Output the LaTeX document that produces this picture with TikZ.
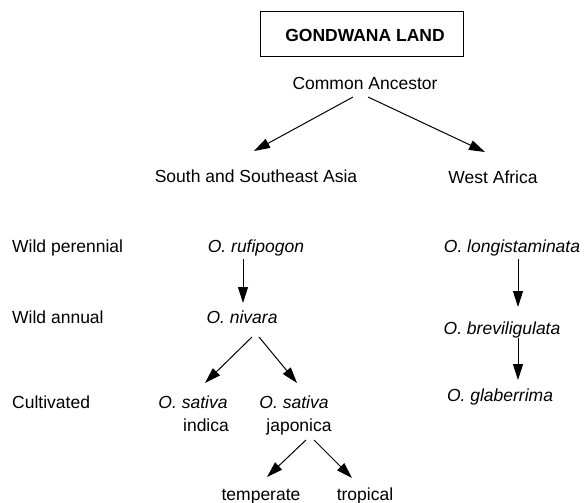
\documentclass[tikz,border=0pt]{standalone}
\usepackage{fontspec}
\setmainfont{Liberation Sans}
\usetikzlibrary{arrows.meta}

\begin{document}
\begin{tikzpicture}[x=1pt, y=-1pt,
		txt/.style={font=\fontsize{17.5}{20}\selectfont, inner sep=0pt, anchor=base},
		taxon/.style={txt, font=\fontsize{17.5}{20}\selectfont\itshape},
		arr/.style={-{Triangle[length=16pt, width=10pt]}, line width=1pt}]
	\useasboundingbox (0,0) rectangle (584,503);
	
	% Origin
	\draw[line width=1pt] (260,12) rectangle (463,57);
	\node[txt, font=\fontsize{17.5}{20}\selectfont\bfseries] (gond) at (365,42) {GONDWANA LAND};
	\node[txt] (anc) at (365,89) {Common Ancestor};
	\node[txt] (sasia) at (256,182) {South and Southeast Asia};
	\node[txt] (wafr) at (493,183) {West Africa};
	
	% Row labels
	\node[txt, anchor=base west] (wper) at (12,252) {Wild perennial};
	\node[txt, anchor=base west] (wann) at (12,323) {Wild annual};
	\node[txt, anchor=base west] (cult) at (12,408) {Cultivated};
	
	% Asian lineage
	\node[taxon] (rufi) at (256,252) {O. rufipogon};
	\node[taxon] (niva) at (242,323) {O. nivara};
	\node[taxon] (satI) at (193,408) {O. sativa};
	\node[txt] (indi) at (206,431) {indica};
	\node[taxon] (satJ) at (294,408) {O. sativa};
	\node[txt] (japo) at (299,431) {japonica};
	\node[txt] (temp) at (261,500) {temperate};
	\node[txt] (trop) at (365,500) {tropical};
	
	% African lineage
	\node[taxon] (long) at (512,252) {O. longistaminata};
	\node[taxon] (brev) at (502,334) {O. breviligulata};
	\node[taxon] (glab) at (500,401) {O. glaberrima};
	
	% Arrows
	\draw[arr] ([shift={(-12,8)}]anc.base) -- ([shift={(-2,-31)}]sasia.base);
	\draw[arr] ([shift={(3,8)}]anc.base) -- ([shift={(-8,-31)}]wafr.base);
	\draw[arr] ([shift={(-13,7)}]rufi.base) -- ([shift={(1,-20)}]niva.base);
	\draw[arr] ([shift={(10,14)}]niva.base) -- ([shift={(12,-25)}]satI.base);
	\draw[arr] ([shift={(17,14)}]niva.base) -- ([shift={(3,-25)}]satJ.base);
	\draw[arr] ([shift={(7,9)}]japo.base) -- ([shift={(6,-23)}]temp.base);
	\draw[arr] ([shift={(15,9)}]japo.base) -- ([shift={(-13,-22)}]trop.base);
	\draw[arr] ([shift={(6,7)}]long.base) -- ([shift={(16,-27)}]brev.base);
	\draw[arr] ([shift={(16,4)}]brev.base) -- ([shift={(18,-21)}]glab.base);
\end{tikzpicture}
\end{document}
